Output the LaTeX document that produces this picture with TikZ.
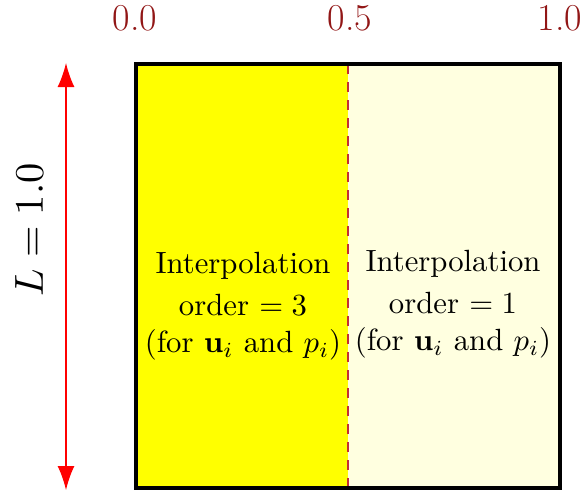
\documentclass[tikz,border=0pt]{standalone}
\usetikzlibrary{arrows.meta}
\definecolor{labred}{RGB}{145,22,22}
\definecolor{dashred}{RGB}{195,45,55}
\definecolor{paleyellow}{RGB}{255,255,224}
\definecolor{fullyellow}{RGB}{255,255,0}
\tikzset{
  toplabel/.style={text=labred, anchor=base, inner sep=0pt, font=\fontsize{38}{40}\selectfont},
  regiontext/.style={align=center, inner sep=0pt, scale=3.07},
  dimarrow/.style={red, line width=1.5pt, {Latex[length=24pt,width=17pt]}-{Latex[length=24pt,width=17pt]}},
}
\begin{document}
\begin{tikzpicture}[x=1pt,y=-1pt]
\useasboundingbox (0,0) rectangle (585,490);
% regions
\fill[fullyellow] (136,64) rectangle (348,488);
\fill[paleyellow] (348,64) rectangle (560,488);
\draw[dashred, line width=1.5pt, dash pattern=on 10pt off 8pt] (348,64) -- (348,488);
\draw[black, line width=4pt] (136,64) rectangle (560,488);
% top labels
\node[toplabel] (x0) at (135,30) {0.0};
\node[toplabel] (x5) at (350,30) {0.5};
\node[toplabel] (x1) at (560,30) {1.0};
% region texts
\node[regiontext] (lefttext) at (243,306) {Interpolation\\[1.9pt] order $=3$\\ (for $\mathbf{u}_i$ and $p_i$)};
\node[regiontext] (righttext) at (453,304) {Interpolation\\[1.9pt] order $=1$\\ (for $\mathbf{u}_i$ and $p_i$)};
% dimension arrow
\coordinate (atop) at (66,63);
\coordinate (abot) at (66,490);
\draw[dimarrow] (atop) -- (abot);
\node[rotate=90, inner sep=0pt, scale=4.05] (Llabel) at (29,230) {$L = 1.0$};
\end{tikzpicture}
\end{document}
